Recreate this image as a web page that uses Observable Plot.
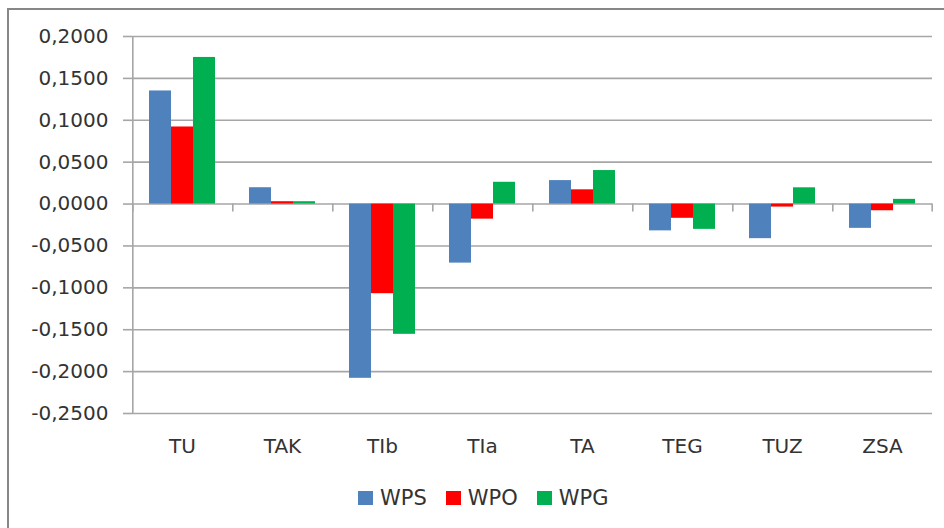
<!DOCTYPE html>
<html>
<head>
<meta charset="utf-8">
<script src="https://cdn.jsdelivr.net/npm/d3@7"></script>
<script src="https://cdn.jsdelivr.net/npm/@observablehq/plot@0.6"></script>
<style>
  html, body { margin: 0; padding: 0; background: #fff; overflow: hidden; }
  #wrap { position: relative; width: 944px; height: 528px; overflow: hidden; font-family: "DejaVu Sans", sans-serif; }
  #border { position: absolute; left: 7px; top: 8px; width: 1000px; height: 600px; border: 2px solid #878787; box-sizing: border-box; }
  #chart { position: absolute; left: 0; top: 0; }
  #legend { position: absolute; left: 358px; top: 486px; height: 24px; display: flex; align-items: center; font-size: 21px; color: #333; }
  #legend .item { display: flex; align-items: center; margin-right: 19px; }
  #legend .sw { width: 15px; height: 14px; margin-right: 7px; }
</style>
</head>
<body>
<div id="wrap">
  <div id="border"></div>
  <div id="chart"></div>
  <div id="legend"></div>
</div>
<script>
const categories = ["TU", "TAK", "TIb", "TIa", "TA", "TEG", "TUZ", "ZSA"];
const series = ["WPS", "WPO", "WPG"];
const colors = ["#4F81BD", "#FF0000", "#00B050"];
const WPS = [0.135, 0.0195, -0.208, -0.0705, 0.028, -0.032, -0.0413, -0.029];
const WPO = [0.092, 0.0028, -0.107, -0.018, 0.017, -0.017, -0.0036, -0.008];
const WPG = [0.175, 0.0028, -0.1555, 0.026, 0.040, -0.0302, 0.0194, 0.0056];
const yTicks = [0.2, 0.15, 0.1, 0.05, 0, -0.05, -0.1, -0.15, -0.2, -0.25];

const values = {WPS, WPO, WPG};
const data = [];
categories.forEach((c, i) => series.forEach(s => data.push({category: c, series: s, value: values[s][i]})));

const W = 944, H = 470, ML = 132, MR = 12, MT = 36, MB = 57;
const xPadOuter = 0.74;
const fxStep = (W - ML - MR) / categories.length;
const xStep = fxStep / (series.length + 2 * xPadOuter);
const edge = xPadOuter * xStep + xStep / 2;
const gridColor = "#a6a6a6";
const fmt = v => d3.format(".4f")(v).replace(".", ",").replace("−", "-");

const chart = Plot.plot({
  width: W, height: H,
  marginLeft: ML, marginRight: MR, marginTop: MT, marginBottom: MB,
  style: {fontFamily: "DejaVu Sans, sans-serif", fontSize: "20px", color: "#333", background: "transparent"},
  fx: {domain: categories, padding: 0, label: null},
  x: {domain: series, paddingInner: 0, paddingOuter: xPadOuter, axis: null},
  y: {domain: [d3.min(yTicks), d3.max(yTicks)], label: null},
  color: {domain: series, range: colors},
  marks: [
    Plot.gridY(yTicks, {stroke: gridColor, strokeOpacity: 1, strokeWidth: 1.6}),
    Plot.axisY(yTicks, {tickSize: 9, tickPadding: 15, tickFormat: fmt, stroke: gridColor, strokeWidth: 1.6, fill: "#333", label: null}),
    Plot.axisFx({anchor: "bottom", tickSize: 0, tickPadding: 25, label: null, fill: "#333"}),
    Plot.ruleX([categories[0]], {fx: d => d, x: () => series[0], dx: -edge, stroke: gridColor, strokeWidth: 1.6}),
    Plot.barY(data, {fx: "category", x: "series", y: "value", fill: "series"}),
    Plot.ruleX(categories, {fx: d => d, x: () => series[0], dx: -edge, y1: 0, y2: 0, insetBottom: -8, stroke: gridColor, strokeWidth: 1.6}),
    Plot.ruleX([categories[categories.length - 1]], {fx: d => d, x: () => series[series.length - 1], dx: edge, y1: 0, y2: 0, insetBottom: -8, stroke: gridColor, strokeWidth: 1.6})
  ]
});
document.getElementById("chart").appendChild(chart);

const legend = document.getElementById("legend");
series.forEach((s, i) => {
  const item = document.createElement("div");
  item.className = "item";
  const sw = document.createElement("div");
  sw.className = "sw";
  sw.style.background = colors[i];
  const label = document.createElement("span");
  label.textContent = s;
  item.appendChild(sw);
  item.appendChild(label);
  legend.appendChild(item);
});
</script>
</body>
</html>
